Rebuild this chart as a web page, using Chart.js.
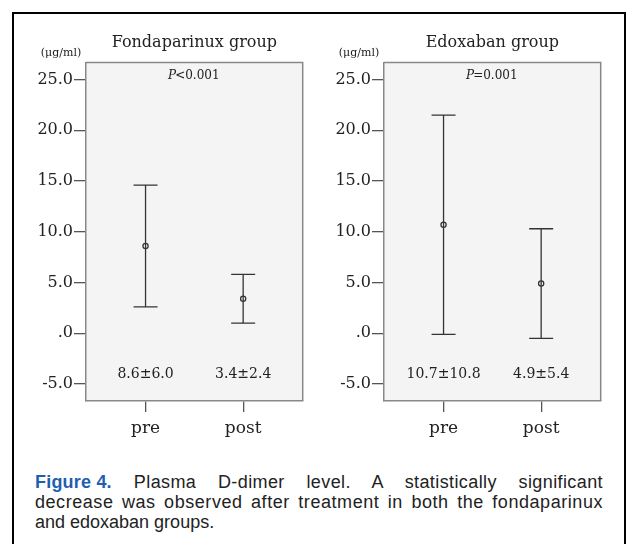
<!DOCTYPE html>
<html>
<head>
<meta charset="utf-8">
<script src="https://cdn.jsdelivr.net/npm/chart.js@4.4.1/dist/chart.umd.min.js"></script>
<style>
  body { margin: 0; background: #fff; width: 627px; height: 544px; overflow: hidden; position: relative; }
  #frame { position: absolute; left: 12px; top: 12px; width: 614px; height: 600px; border: 2px solid #000; box-sizing: border-box; }
  canvas { position: absolute; top: 20px; }
  #left { left: 20px; }
  #right { left: 318px; }
  #caption { position: absolute; left: 35px; top: 472px; width: 568px; font-family: 'Liberation Sans', Arial, sans-serif; font-size: 18px; line-height: 20px; color: #222; }
  #caption .j { text-align: justify; text-align-last: justify; }
  #caption .t { letter-spacing: 0.55px; }
  #caption .s { letter-spacing: 0.4px; }
  #caption .fig { display: inline-block; white-space: nowrap; font-weight: bold; color: #1f5fae; letter-spacing: 0.2px; margin-right: 22px; }
</style>
</head>
<body>
<div id="frame"></div>
<canvas id="left" width="296" height="430"></canvas>
<canvas id="right" width="296" height="430"></canvas>
<div id="caption">
  <div class="j s"><span class="fig">Figure 4.</span>Plasma D-dimer level. A statistically significant</div>
  <div class="j t">decrease was observed after treatment in both the fondaparinux</div>
  <div>and edoxaban groups.</div>
</div>
<script>
// values (mean, mean-SD, mean+SD)
const categories = ['pre', 'post'];
const yTicks = [-5, 0, 5, 10, 15, 20, 25];

const fondaMean = [8.6, 3.4];
const fondaLow = [2.6, 1.0];
const fondaHigh = [14.6, 5.8];
const fondaText = ['8.6\u00b16.0', '3.4\u00b12.4'];

const edoxMean = [10.7, 4.9];
const edoxLow = [-0.1, -0.5];
const edoxHigh = [21.5, 10.3];
const edoxText = ['10.7\u00b110.8', '4.9\u00b15.4'];

const serif = 'DejaVu Serif';
const ink = '#222';

// background, frame and the texts round each panel
const panelPlugin = {
  id: 'panel',
  beforeDraw(chart) {
    const a = chart.chartArea, ctx = chart.ctx;
    ctx.save();
    ctx.fillStyle = '#f4f4f4';
    ctx.fillRect(a.left, a.top, a.right - a.left, a.bottom - a.top);
    ctx.restore();
  },
  afterDraw(chart, args, opts) {
    const a = chart.chartArea, ctx = chart.ctx;
    const xs = chart.scales.x, ys = chart.scales.y;
    const cx = (a.left + a.right) / 2;
    ctx.save();
    ctx.strokeStyle = '#888';
    ctx.lineWidth = 1.5;
    ctx.beginPath();
    ctx.moveTo(a.left, a.top);
    ctx.lineTo(a.right, a.top);
    ctx.lineTo(a.right, a.bottom);
    ctx.stroke();

    ctx.fillStyle = ink;
    ctx.textAlign = 'center';
    ctx.textBaseline = 'middle';
    ctx.font = '16px "' + serif + '"';
    ctx.fillText(opts.title, cx, 23);
    ctx.font = '11px "' + serif + '"';
    ctx.fillText('(\u03bcg/ml)', a.left - 25, 33);

    // P value, italic P
    const rest = opts.p;
    ctx.font = 'italic 12px "' + serif + '"';
    const wP = ctx.measureText('P').width;
    ctx.font = '12px "' + serif + '"';
    const wR = ctx.measureText(rest).width;
    const x0 = cx - (wP + wR) / 2;
    ctx.textAlign = 'left';
    ctx.font = 'italic 12px "' + serif + '"';
    ctx.fillText('P', x0, 56);
    ctx.font = '12px "' + serif + '"';
    ctx.fillText(rest, x0 + wP - 1, 56);

    ctx.textAlign = 'center';
    ctx.font = '14px "' + serif + '"';
    opts.texts.forEach((t, i) => {
      ctx.fillText(t, xs.getPixelForValue(i + 1), ys.getPixelForValue(-4.0));
    });
    ctx.restore();
  }
};

function errorChart(el, title, p, mean, low, high, texts) {
  const whisker = [];
  const caps = [];
  const centres = [];
  for (let i = 0; i < categories.length; i++) {
    if (i > 0) whisker.push({ x: i + 0.5, y: null });
    whisker.push({ x: i + 1, y: low[i] }, { x: i + 1, y: high[i] });
    caps.push({ x: i + 1, y: low[i] }, { x: i + 1, y: high[i] });
    centres.push({ x: i + 1, y: mean[i] });
  }
  return new Chart(el, {
    type: 'scatter',
    data: {
      datasets: [
        { data: whisker, showLine: true, spanGaps: false, pointRadius: 0, borderColor: '#333', borderWidth: 1.3 },
        { data: caps, pointStyle: 'line', pointRadius: 12, borderColor: '#333', borderWidth: 1.3 },
        { data: centres, pointStyle: 'circle', pointRadius: 2.6, borderColor: '#333', borderWidth: 1.3, backgroundColor: '#f4f4f4' }
      ]
    },
    options: {
      responsive: false,
      animation: false,
      layout: { padding: { top: 42.5, right: 8, left: 0, bottom: 0 } },
      plugins: {
        legend: { display: false },
        tooltip: { enabled: false },
        panel: { title: title, p: p, texts: texts }
      },
      scales: {
        x: {
          type: 'linear', min: 0.39, max: 2.61,
          afterBuildTicks: s => { s.ticks = [1, 2].map(v => ({ value: v })); },
          afterFit: s => { s.height = 49; },
          ticks: { callback: v => categories[v - 1], font: { family: serif, size: 17 }, color: ink, padding: 6, maxRotation: 0 },
          grid: { drawOnChartArea: false, tickLength: 11, color: '#555', lineWidth: 1.3 },
          border: { color: '#888', width: 1.5 }
        },
        y: {
          min: -6.67, max: 26.68,
          afterBuildTicks: s => { s.ticks = yTicks.map(v => ({ value: v })); },
          afterFit: s => { s.width = 66; },
          ticks: { callback: v => v === 0 ? '.0' : v.toFixed(1), font: { family: serif, size: 16 }, color: ink, padding: 1 },
          grid: { drawOnChartArea: false, tickLength: 12, color: '#555', lineWidth: 1.3 },
          border: { color: '#888', width: 1.5 }
        }
      }
    },
    plugins: [panelPlugin]
  });
}

errorChart(document.getElementById('left'), 'Fondaparinux group', '<0.001', fondaMean, fondaLow, fondaHigh, fondaText);
errorChart(document.getElementById('right'), 'Edoxaban group', '=0.001', edoxMean, edoxLow, edoxHigh, edoxText);
</script>
</body>
</html>
